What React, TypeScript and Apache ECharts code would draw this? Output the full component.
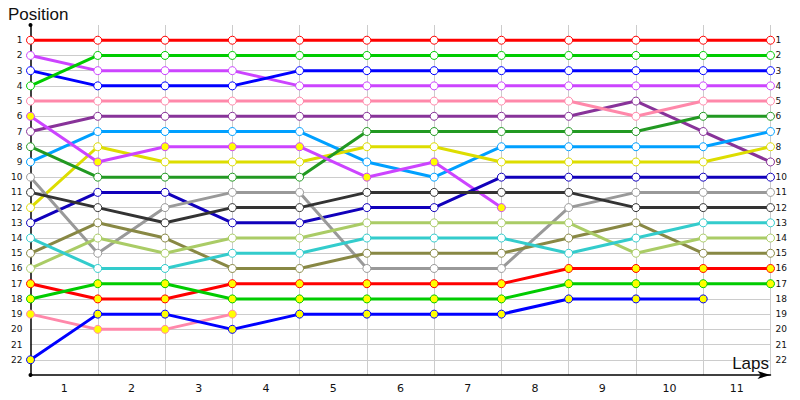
import { useRef, useEffect } from 'react';
import * as echarts from 'echarts';

// positions after each lap (index 0 = grid/start)
const lapMarks = [0, 1, 2, 3, 4, 5, 6, 7, 8, 9, 10, 11];
const lapLabels = ['1', '2', '3', '4', '5', '6', '7', '8', '9', '10', '11'];
const positionLabels = Array.from({ length: 22 }, (_, i) => String(i + 1));

const redTop = [1, 1, 1, 1, 1, 1, 1, 1, 1, 1, 1, 1];
const greenTop = [4, 2, 2, 2, 2, 2, 2, 2, 2, 2, 2, 2];
const blueTop = [3, 4, 4, 4, 3, 3, 3, 3, 3, 3, 3, 3];
const violetTop = [2, 3, 3, 3, 4, 4, 4, 4, 4, 4, 4, 4];
const pinkTop = [5, 5, 5, 5, 5, 5, 5, 5, 5, 6, 5, 5];
const purple = [7, 6, 6, 6, 6, 6, 6, 6, 6, 5, 7, 9];
const skyBlue = [9, 7, 7, 7, 7, 9, 10, 8, 8, 8, 8, 7];
const yellow = [12, 8, 9, 9, 9, 8, 8, 9, 9, 9, 9, 8];
const violetLow = [6, 9, 8, 8, 8, 10, 9, 12];
const darkGreen = [8, 10, 10, 10, 10, 7, 7, 7, 7, 7, 6, 6];
const navy = [13, 11, 11, 13, 13, 12, 12, 10, 10, 10, 10, 10];
const gray = [10, 15, 12, 11, 11, 16, 16, 16, 12, 11, 11, 11];
const charcoal = [11, 12, 13, 12, 12, 11, 11, 11, 11, 12, 12, 12];
const olive = [15, 13, 14, 16, 16, 15, 15, 15, 14, 13, 15, 15];
const lime = [16, 14, 15, 14, 14, 13, 13, 13, 13, 15, 14, 14];
const teal = [14, 16, 16, 15, 15, 14, 14, 14, 15, 14, 13, 13];
const redLow = [17, 18, 18, 17, 17, 17, 17, 17, 16, 16, 16, 16];
const greenLow = [18, 17, 17, 18, 18, 18, 18, 18, 17, 17, 17, 17];
const pinkLow = [19, 20, 20, 19];
const blueLow = [22, 19, 19, 20, 19, 19, 19, 19, 18, 18, 18];

const drivers: [number[], string, string][] = [
  [purple, '#883399', '#ffffff'],
  [skyBlue, '#00a0ff', '#ffffff'],
  [yellow, '#dddd00', '#ffffff'],
  [darkGreen, '#229922', '#ffffff'],
  [violetLow, '#cc44ff', '#ffff00'],
  [navy, '#1100bb', '#ffffff'],
  [gray, '#999999', '#ffffff'],
  [charcoal, '#333333', '#ffffff'],
  [olive, '#888844', '#ffffff'],
  [lime, '#aacc66', '#ffffff'],
  [teal, '#33cccc', '#ffffff'],
  [pinkLow, '#ff88aa', '#ffff00'],
  [blueLow, '#0000ff', '#ffff00'],
  [redLow, '#ff0000', '#ffff00'],
  [greenLow, '#00cc00', '#ffff00'],
  [pinkTop, '#ff88aa', '#ffffff'],
  [violetTop, '#cc44ff', '#ffffff'],
  [blueTop, '#0000ff', '#ffffff'],
  [greenTop, '#00cc00', '#ffffff'],
  [redTop, '#ff0000', '#ffffff'],
];

const yAxisBase = {
  type: 'value',
  inverse: true,
  min: 0,
  max: 23,
  interval: 1,
  axisTick: { show: false },
};

export default function App() {
  const chartRef = useRef<HTMLDivElement>(null);
  useEffect(() => {
    let chart: echarts.ECharts | undefined;
    if (chartRef.current) {
      chart = echarts.init(chartRef.current, undefined, { renderer: 'svg' });
      const showPos = (v: number) =>
        positionLabels.includes(String(v)) ? String(v) : '';
      const titleStyle = {
        fontSize: 17,
        fontWeight: 'normal',
        color: '#111',
        fontFamily: 'Liberation Sans',
      };
      chart.setOption({
        animation: false,
        textStyle: { fontFamily: 'DejaVu Sans' },
        title: [
          { text: 'Position', left: 3, top: 1, textStyle: titleStyle },
          { text: 'Laps', right: 26, top: 350, textStyle: titleStyle },
        ],
        grid: { left: 30.5, right: 29.5, top: 25, bottom: 25 },
        xAxis: [
          {
            type: 'value',
            min: 0,
            max: 11,
            interval: 1,
            axisLine: {
              onZero: false,
              lineStyle: { color: '#000', width: 1.5 },
              symbol: ['none', 'arrow'],
              symbolSize: [6, 13],
            },
            axisTick: { show: false },
            axisLabel: { show: false },
            splitLine: {
              show: true,
              showMinLine: false,
              lineStyle: { color: '#cccccc', width: 1 },
            },
          },
          {
            type: 'value',
            position: 'bottom',
            min: 0,
            max: 11,
            interval: 0.5,
            axisLine: { show: false, onZero: false },
            axisTick: { show: false },
            splitLine: { show: false },
            axisLabel: {
              margin: 8,
              fontSize: 11,
              color: '#111',
              formatter: (v: number) => {
                const i = Math.round(v - 0.5);
                return Math.abs(v - 0.5 - i) < 1e-6 && lapLabels[i] ? lapLabels[i] : '';
              },
            },
          },
        ],
        yAxis: [
          {
            ...yAxisBase,
            position: 'left',
            axisLine: {
              onZero: false,
              lineStyle: { color: '#000', width: 1.5 },
              symbol: ['circle', 'circle'],
              symbolSize: [4, 4],
            },
            axisLabel: { fontSize: 9, color: '#111', margin: 8, formatter: showPos },
            splitLine: {
              show: true,
              showMinLine: false,
              showMaxLine: false,
              lineStyle: { color: '#cccccc', width: 1 },
            },
          },
          {
            ...yAxisBase,
            position: 'right',
            axisLine: { show: false, onZero: false },
            axisLabel: { fontSize: 9, color: '#111', margin: 5, formatter: showPos },
            splitLine: { show: false },
          },
        ],
        series: drivers.map(([pos, color, fill]) => ({
          type: 'line',
          xAxisIndex: 0,
          yAxisIndex: 0,
          data: pos.map((p, i) => [lapMarks[i], p]),
          symbol: 'circle',
          symbolSize: 8,
          showAllSymbol: true,
          lineStyle: { color, width: 3 },
          itemStyle: { color: fill, borderColor: color, borderWidth: 1 },
          emphasis: { disabled: true },
          silent: true,
        })),
      });
    }
    return () => {
      chart?.dispose();
    };
  }, []);

  return (
    <div
      ref={chartRef}
      style={{ position: 'fixed', left: 0, top: 0, width: 800, height: 400, background: '#fff' }}
    />
  );
}
